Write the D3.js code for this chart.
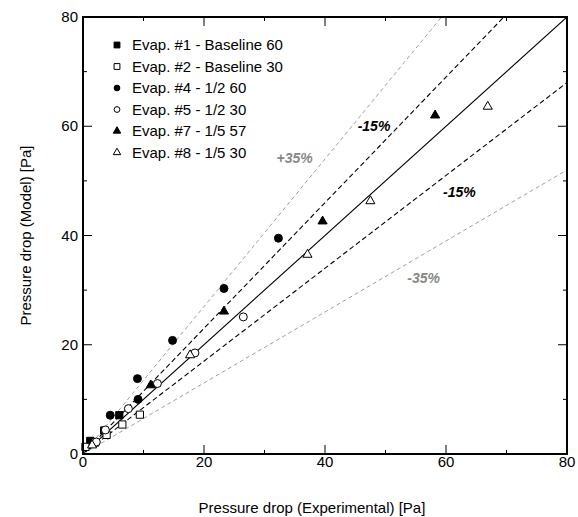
<!DOCTYPE html>
<html>
<head>
<meta charset="utf-8">
<script src="https://cdn.jsdelivr.net/npm/d3@7"></script>
<style>
  body { margin: 0; background: #fff; }
  svg { display: block; font-family: "Liberation Sans", Arial, sans-serif; }
</style>
</head>
<body>
<svg id="chart"></svg>
<script>
// data: [experimental, model]
const evap1 = [[1.2, 2.4], [3.5, 4.3], [6.0, 7.1]];
const evap2 = [[0.4, 1.3], [2.0, 2.1], [3.9, 3.5], [6.5, 5.4], [9.4, 7.2]];
const evap4 = [[4.5, 7.1], [9.1, 10.0], [9.0, 13.8], [14.8, 20.8], [23.3, 30.3], [32.3, 39.5]];
const evap5 = [[2.2, 2.2], [3.7, 4.4], [7.5, 8.3], [12.3, 12.9], [18.5, 18.5], [26.5, 25.1]];
const evap7 = [[11.2, 12.6], [23.3, 26.1], [39.6, 42.6], [58.2, 62.0]];
const evap8 = [[1.5, 1.6], [17.7, 18.1], [37.1, 36.5], [47.5, 46.3], [66.9, 63.6]];

const seriesNames = [
  "Evap. #1 - Baseline 60",
  "Evap. #2 - Baseline 30",
  "Evap. #4 - 1/2 60",
  "Evap. #5 - 1/2 30",
  "Evap. #7 - 1/5 57",
  "Evap. #8 - 1/5 30",
];
const seriesData = [evap1, evap2, evap4, evap5, evap7, evap8];
const seriesShape = ["square", "square", "circle", "circle", "triangle", "triangle"];
const seriesFilled = [true, false, true, false, true, false];

const ticksMajor = [0, 20, 40, 60, 80];
const ticksMinor = [10, 30, 50, 70];
// deviation lines: slope and label
const bandSlopes = [1.35, 1.15, 0.85, 0.65];
const bandLabels = ["+35%", "-15%", "-15%", "-35%"];

const svgWidth = 578;
const svgHeight = 517;
const m_left = 83;
const m_top = 17;
const m_right = 11;
const m_bottom = 63;
const width = svgWidth - m_left - m_right;
const height = svgHeight - m_top - m_bottom;

const svg = d3.select("#chart").attr("width", svgWidth).attr("height", svgHeight);
const plot = svg.append("g").attr("transform", `translate(${m_left}, ${m_top})`);

const xScale = d3.scaleLinear().domain([0, 80]).range([0, width]);
const yScale = d3.scaleLinear().domain([0, 80]).range([height, 0]);

svg.append("clipPath").attr("id", "clip")
  .append("rect").attr("width", width).attr("height", height);

// reference lines
const lines = plot.append("g").attr("clip-path", "url(#clip)");
lines.append("line")
  .attr("x1", xScale(0)).attr("y1", yScale(0))
  .attr("x2", xScale(80)).attr("y2", yScale(80))
  .attr("stroke", "#000").attr("stroke-width", 1.1);

bandSlopes.forEach((s) => {
  const gray = Math.abs(s - 1) > 0.2;
  lines.append("line")
    .attr("x1", xScale(0)).attr("y1", yScale(0))
    .attr("x2", xScale(80)).attr("y2", yScale(80 * s))
    .attr("stroke", gray ? "#a0a0a0" : "#000")
    .attr("stroke-width", gray ? 1 : 1.1)
    .attr("stroke-dasharray", gray ? "4,3" : "5,3");
});

// labels for deviation lines (position in data units)
const bandLabelPos = [[32.0, 53.3], [45.4, 59.1], [59.5, 47.0], [53.6, 31.3]];
bandLabels.forEach((t, i) => {
  const gray = Math.abs(bandSlopes[i] - 1) > 0.2;
  plot.append("text")
    .attr("x", xScale(bandLabelPos[i][0]))
    .attr("y", yScale(bandLabelPos[i][1]))
    .attr("font-size", 14)
    .attr("font-weight", "bold")
    .attr("font-style", "italic")
    .attr("fill", gray ? "#888" : "#000")
    .text(t);
});

// markers
function symbolFor(shape, legend) {
  if (shape === "square") return d3.symbol(d3.symbolSquare, legend ? 34 : 52);
  if (shape === "circle") return d3.symbol(d3.symbolCircle, legend ? 26 : 50);
  return d3.symbol(d3.symbolTriangle, legend ? 24 : 36);
}

seriesData.forEach((data, i) => {
  plot.append("g")
    .selectAll("path")
    .data(data)
    .join("path")
    .attr("transform", (d) => `translate(${xScale(d[0])}, ${yScale(d[1])})`)
    .attr("d", symbolFor(seriesShape[i], false)())
    .attr("fill", seriesFilled[i] ? "#000" : "#fff")
    .attr("stroke", "#000")
    .attr("stroke-width", 1);
});

// frame and ticks
plot.append("rect")
  .attr("width", width).attr("height", height)
  .attr("fill", "none").attr("stroke", "#000").attr("stroke-width", 2);

const tickG = plot.append("g").attr("stroke", "#000").attr("stroke-width", 1);
[[ticksMajor, 9], [ticksMinor, 4]].forEach(([ticks, len]) => {
  ticks.forEach((t) => {
    tickG.append("line").attr("x1", xScale(t)).attr("x2", xScale(t))
      .attr("y1", height).attr("y2", height - len);
    tickG.append("line").attr("x1", xScale(t)).attr("x2", xScale(t))
      .attr("y1", 0).attr("y2", len);
    tickG.append("line").attr("y1", yScale(t)).attr("y2", yScale(t))
      .attr("x1", 0).attr("x2", len);
    tickG.append("line").attr("y1", yScale(t)).attr("y2", yScale(t))
      .attr("x1", width).attr("x2", width - len);
  });
});

plot.append("g")
  .selectAll("text")
  .data(ticksMajor)
  .join("text")
  .attr("x", (d) => xScale(d))
  .attr("y", height + 13)
  .attr("text-anchor", "middle")
  .attr("font-size", 15)
  .text((d) => d);

plot.append("g")
  .selectAll("text")
  .data(ticksMajor)
  .join("text")
  .attr("x", -5)
  .attr("y", (d) => yScale(d) + 5)
  .attr("text-anchor", "end")
  .attr("font-size", 15)
  .text((d) => d);

svg.append("text")
  .attr("x", 312)
  .attr("y", 513)
  .attr("text-anchor", "middle")
  .attr("font-size", 15)
  .text("Pressure drop (Experimental) [Pa]");

svg.append("text")
  .attr("transform", `translate(31, ${m_top + height / 2}) rotate(-90)`)
  .attr("text-anchor", "middle")
  .attr("font-size", 15)
  .text("Pressure drop (Model) [Pa]");

// legend
const legend = svg.append("g").attr("transform", "translate(117, 45)");
seriesNames.forEach((name, i) => {
  const row = legend.append("g").attr("transform", `translate(0, ${i * 21.5})`);
  row.append("path")
    .attr("d", symbolFor(seriesShape[i], true)())
    .attr("fill", seriesFilled[i] ? "#000" : "#fff")
    .attr("stroke", "#000")
    .attr("stroke-width", 1);
  row.append("text")
    .attr("x", 15)
    .attr("y", 5)
    .attr("font-size", 15)
    .text(name);
});
</script>
</body>
</html>
